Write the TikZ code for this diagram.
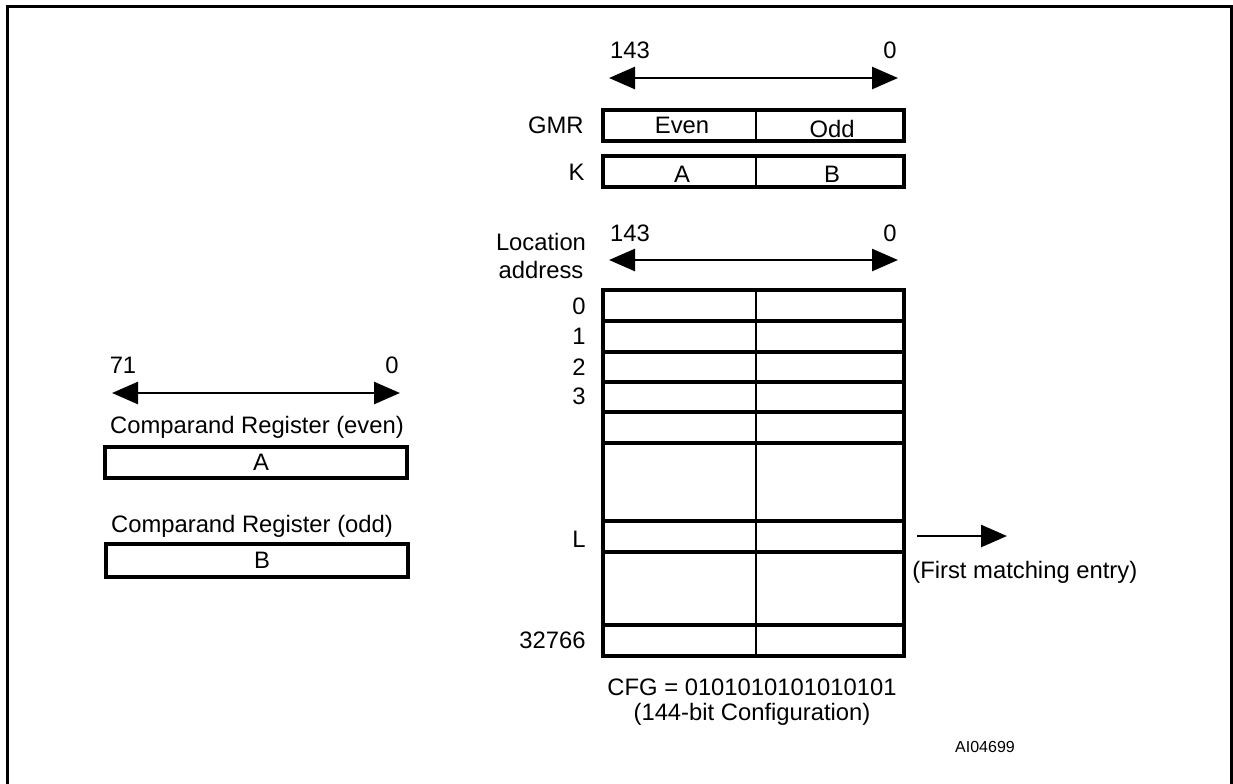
\documentclass[tikz,border=0pt]{standalone}
\usepackage{fontspec}
\setmainfont{Liberation Sans}
\usetikzlibrary{arrows, arrows.meta}
\usetikzlibrary{positioning}

\tikzset{
  txt/.style={font=\fontsize{11.9}{14}\selectfont, inner sep=0pt, anchor=base},
  small/.style={font=\fontsize{8}{10}\selectfont, inner sep=0pt, anchor=base},
  dimarrow/.style={{Triangle[length=13pt,width=11pt]}-{Triangle[length=13pt,width=11pt]}, line width=1.3pt},
  outarrow/.style={-{Triangle[length=13pt,width=11pt]}, line width=1.3pt},
  regbox/.style={line width=1.6pt},
  regline/.style={line width=0.8pt},
  rowline/.style={line width=1.6pt}
}

\begin{document}
\begin{tikzpicture}[x=0.5pt, y=-0.5pt]
\useasboundingbox (0,0) rectangle (1233,783);
\draw[line width=1.5pt] (7,800)--(7,6)--(1231,6)--(1231,800); %frame

% 143..0 above GMR
\coordinate (topl) at (609,78);
\coordinate (topr) at (898,78);
\draw[dimarrow] (topl)--(topr);
\node[txt] (top143) at (630,58) {143};
\node[txt] (top0) at (890,58) {0};

% GMR and K
\draw[regline] (756,110)--(756,141);
\draw[regbox] (603,110) rectangle (904,141);
\draw[regline] (756,156)--(756,187);
\draw[regbox] (603,156) rectangle (904,187);
\node[txt] (even) at (682,133) {Even};
\node[txt] (odd) at (832,137) {Odd};
\node[txt] (ka) at (682,182) {A};
\node[txt] (kb) at (832,182) {B};
\node[txt, anchor=base east] (gmr) at (584,133) {GMR};
\node[txt, anchor=base east] (k) at (585,180) {K};

% 143..0 above the table
\coordinate (midl) at (609,260);
\coordinate (midr) at (898,260);
\draw[dimarrow] (midl)--(midr);
\node[txt] (mid143) at (630,241) {143};
\node[txt] (mid0) at (890,241) {0};
\node[txt] (loc) at (541,250) {Location};
\node[txt] (addr) at (541,278) {address};

% table
\draw[regline] (756,290)--(756,656);
\foreach \y in {321,352,382,412,443,521,552,625}
  \draw[rowline] (603,\y)--(904,\y);
\draw[regbox] (603,290) rectangle (904,656);
\foreach \t/\y in {0/314,1/344,2/375,3/404,L/547,32766/648}
  \node[txt, anchor=base east] (row\t) at (586,\y) {\t};

% first matching entry
\coordinate (matchl) at (917,536);
\coordinate (matchr) at (1007,536);
\draw[outarrow] (matchl)--(matchr);
\node[txt, anchor=base west] (match) at (912,578) {(First matching entry)};

\node[txt] (cfg) at (752,695) {CFG = 0101010101010101};
\node[txt] (cfgbits) at (752,720) {(144-bit Configuration)};
\node[small] (fig) at (985,752) {AI04699};

% comparand registers
\coordinate (cmpl) at (112,393);
\coordinate (cmpr) at (400,393);
\draw[dimarrow] (cmpl)--(cmpr);
\node[txt] (cmp71) at (123,373) {71};
\node[txt] (cmp0) at (392,373) {0};
\node[txt] (evenreg) at (257,433) {Comparand Register (even)};
\draw[regbox] (105,447) rectangle (407,478);
\node[txt] (rega) at (261,470) {A};
\node[txt] (oddreg) at (252,532) {Comparand Register (odd)};
\draw[regbox] (106,544) rectangle (408,577);
\node[txt] (regb) at (262,568) {B};
\end{tikzpicture}
\end{document}
